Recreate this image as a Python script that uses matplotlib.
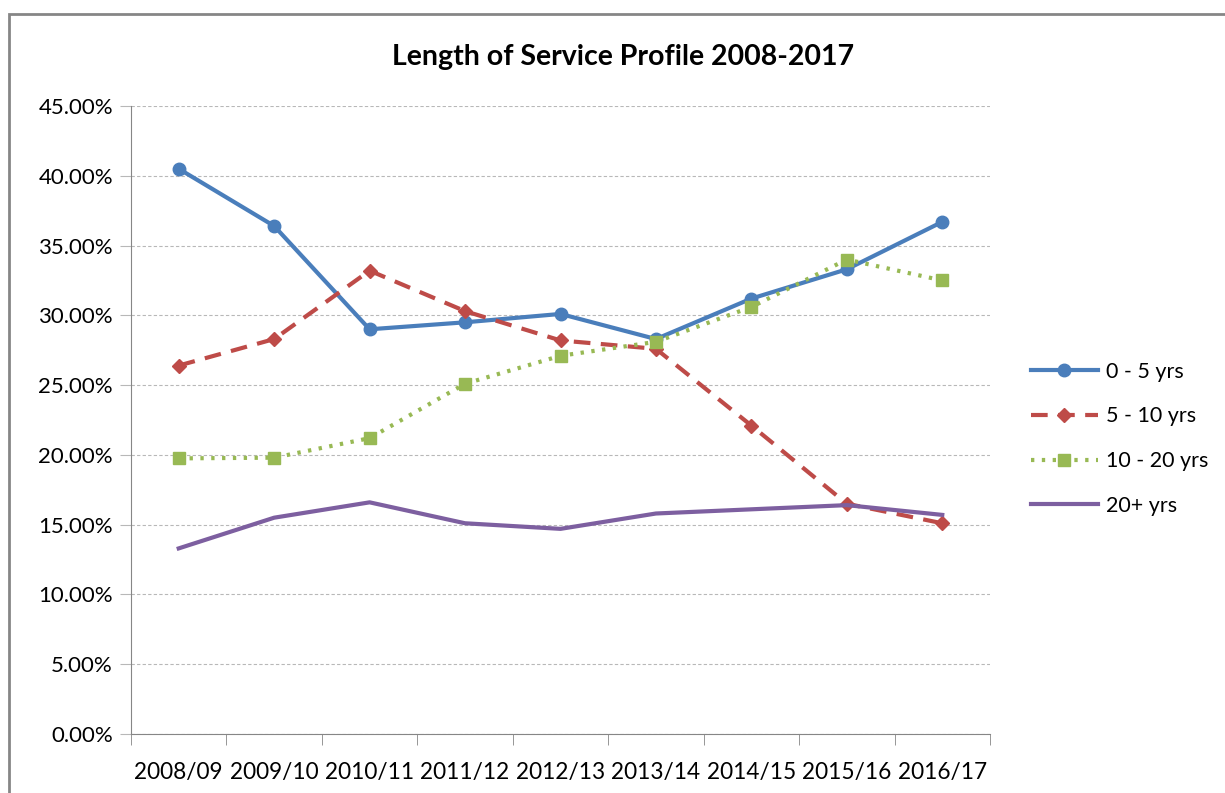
import matplotlib
matplotlib.use("Agg")
import matplotlib.pyplot as plt
from matplotlib.patches import Rectangle
from matplotlib.ticker import FuncFormatter, FixedLocator

years = ["2008/09", "2009/10", "2010/11", "2011/12", "2012/13",
         "2013/14", "2014/15", "2015/16", "2016/17"]
yrs_0_5 = [40.5, 36.4, 29.0, 29.5, 30.1, 28.3, 31.2, 33.3, 36.7]
yrs_5_10 = [26.4, 28.3, 33.2, 30.3, 28.2, 27.6, 22.1, 16.5, 15.1]
yrs_10_20 = [19.75, 19.8, 21.2, 25.1, 27.1, 28.1, 30.6, 34.0, 32.5]
yrs_20p = [13.3, 15.5, 16.6, 15.1, 14.7, 15.8, 16.1, 16.4, 15.7]

plt.rcParams['font.family'] = ['Lato', 'DejaVu Sans']

W, H = 1225, 793
fig = plt.figure(figsize=(W / 100, H / 100), dpi=100)
fig.patches.append(Rectangle((9 / W, -0.01), 1.1, 1 - 14 / H + 0.01,
                             transform=fig.transFigure, fill=False,
                             edgecolor='#868686', linewidth=2))

ax = fig.add_axes([131 / W, 1 - 734 / H, (990 - 131) / W, (734 - 106) / H])
x = list(range(len(years)))

ax.plot(x, yrs_0_5, color='#4a7ebb', lw=3, marker='o', ms=9, label='0 - 5 yrs')
ax.plot(x, yrs_5_10, color='#be4b48', lw=3, ls=(0, (4, 2.5)), marker='D', ms=7,
        label='5 - 10 yrs')
ax.plot(x, yrs_10_20, color='#98b954', lw=3, ls=(0, (0.8, 1.8)), marker='s', ms=9,
        label='10 - 20 yrs')
ax.plot(x, yrs_20p, color='#7d5fa0', lw=3, label='20+ yrs')

ax.set_xlim(-0.5, len(years) - 0.5)
ax.set_ylim(0, 45)
ax.yaxis.set_major_locator(FixedLocator([i * 5 for i in range(10)]))
ax.yaxis.set_major_formatter(FuncFormatter(lambda v, p: "%.2f%%" % v))
ax.grid(axis='y', color='#b8b8b8', ls=(0, (3, 2)), lw=0.8)
ax.set_axisbelow(True)

ax.set_xticks(x)
ax.set_xticklabels(years)
ax.set_xticks([i - 0.5 for i in range(len(years) + 1)], minor=True)
ax.tick_params(axis='x', which='major', length=0, pad=20, labelsize=16.3)
ax.tick_params(axis='x', which='minor', length=8, color='#868686', direction='out')
ax.tick_params(axis='y', length=8, color='#b8b8b8', labelsize=16, pad=5)

for s in ['top', 'right']:
    ax.spines[s].set_visible(False)
ax.spines['left'].set_color('#868686')
ax.spines['bottom'].set_color('#868686')

fig.text(623 / W, 1 - 57 / H, "Length of Service Profile 2008-2017",
         fontsize=20.5, fontweight='bold', ha='center', va='center')

leg = ax.legend(loc='center left', bbox_to_anchor=(1.025, 0.47), frameon=False,
                fontsize=15.5, handlelength=3.1, labelspacing=1.15, handletextpad=0.4)

fig.savefig("out.png", dpi=100)
